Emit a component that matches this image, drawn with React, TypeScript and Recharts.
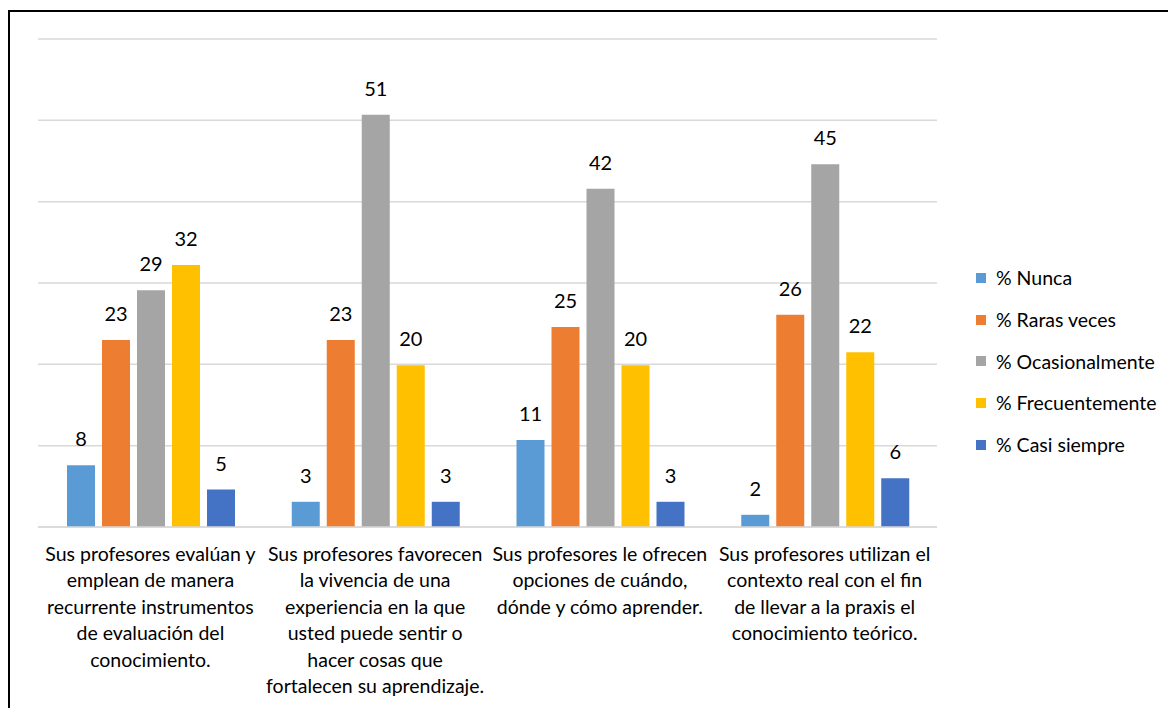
import React from 'react';
import { BarChart, Bar, XAxis, YAxis, CartesianGrid, LabelList } from 'recharts';

const categoryLines: string[][] = [
  ['Sus profesores evalúan y', 'emplean de manera', 'recurrente instrumentos', 'de evaluación del', 'conocimiento.'],
  ['Sus profesores favorecen', 'la vivencia de una', 'experiencia en la que', 'usted puede sentir o', 'hacer cosas que', 'fortalecen su aprendizaje.'],
  ['Sus profesores le ofrecen', 'opciones de cuándo,', 'dónde y cómo aprender.'],
  ['Sus profesores utilizan el', 'contexto real con el fin', 'de llevar a la praxis el', 'conocimiento teórico.'],
];
const categories = categoryLines.map((l) => l.join(' '));

const seriesNames = ['% Nunca', '% Raras veces', '% Ocasionalmente', '% Frecuentemente', '% Casi siempre'];
const seriesColors = ['#5B9BD5', '#ED7D31', '#A5A5A5', '#FFC000', '#4472C4'];

const nunca = [7.6, 3.1, 10.7, 1.5];
const rarasVeces = [23, 23, 24.6, 26.1];
const ocasionalmente = [29.1, 50.7, 41.6, 44.6];
const frecuentemente = [32.2, 19.9, 19.9, 21.5];
const casiSiempre = [4.6, 3.1, 3.1, 6.0];

const seriesValues = [nunca, rarasVeces, ocasionalmente, frecuentemente, casiSiempre];
const yTicks = [0, 10, 20, 30, 40, 50, 60];

const data = categories.map((c, i) => {
  const row: any = { name: c, idx: i };
  seriesNames.forEach((s, k) => {
    row['s' + k] = seriesValues[k][i];
  });
  return row;
});

const FONT = 'Lato, "Open Sans", sans-serif';

const Tick = (props: any) => {
  const { x, y, payload } = props;
  const lines = categoryLines[payload.index] || [];
  return (
    <g transform={`translate(${x},${y})`}>
      {lines.map((l, i) => (
        <text key={i} x={0} y={i * 26.5} textAnchor="middle" fill="#000" fontSize={19.5} fontFamily={FONT} dominantBaseline="central">
          {l}
        </text>
      ))}
    </g>
  );
};

const LegendBox = () => (
  <div style={{ position: 'absolute', left: 968, top: 249, fontFamily: FONT, fontSize: 19.5, color: '#000' }}>
    {seriesNames.map((s, k) => (
      <div key={s} style={{ display: 'flex', alignItems: 'center', height: 41.7 }}>
        <span style={{ display: 'inline-block', width: 10, height: 10, background: seriesColors[k], marginRight: 10 }} />
        <span style={{ whiteSpace: 'nowrap' }}>{s}</span>
      </div>
    ))}
  </div>
);

export default function App() {
  return (
    <div style={{ width: 1168, height: 700, overflow: 'hidden', position: 'relative' }}>
      <div style={{ position: 'absolute', left: 0, top: 2, width: 1300, height: 900, borderLeft: '2px solid #000', borderTop: '2px solid #000' }} />
      <div style={{ position: 'absolute', left: 0, top: 0 }}>
        <BarChart
          width={1168}
          height={700}
          data={data}
          margin={{ top: 31, right: 239, left: 30, bottom: 11 }}
          barCategoryGap={29}
          barGap={7}
        >
          <CartesianGrid vertical={false} stroke="#d9d9d9" strokeWidth={1.5} />
          <YAxis hide domain={[0, 60]} ticks={yTicks} />
          <XAxis
            dataKey="name"
            axisLine={{ stroke: '#d9d9d9', strokeWidth: 1.5 }}
            tickLine={false}
            interval={0}
            height={170}
            tick={<Tick />}
            tickMargin={20}
          />
          {seriesNames.map((s, k) => (
            <Bar key={s} dataKey={'s' + k} name={s} fill={seriesColors[k]} isAnimationActive={false}>
              <LabelList
                dataKey={'s' + k}
                position="top"
                offset={19}
                formatter={(v: any) => Math.round(Number(v))}
                style={{ fill: '#000', fontSize: 20, fontFamily: FONT }}
              />
            </Bar>
          ))}
        </BarChart>
      </div>
      <LegendBox />
    </div>
  );
}
